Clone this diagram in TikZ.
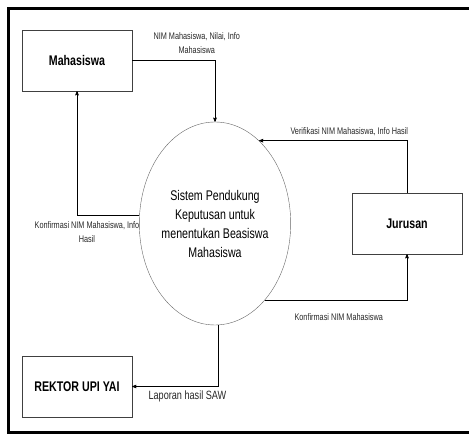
\documentclass[tikz,border=0pt]{standalone}
\usepackage{fontspec}
\setmainfont{Liberation Sans}[FakeStretch=0.76]
\usepackage{tikz}
\usetikzlibrary{arrows, shapes.geometric}

\begin{document}
\begin{tikzpicture}[x=1pt, y=-1pt, ->, >=stealth', semithick,
		entity/.style={draw=black!75, thin, minimum width=110pt, minimum height=61pt, font=\bfseries\fontsize{14}{16}\selectfont},
		process/.style={ellipse, draw=black!60, thin, minimum width=138pt, minimum height=203pt, inner sep=0pt, align=center, font=\fontsize{14}{19}\selectfont},
		flow/.style={font=\fontsize{9.6}{14}\selectfont, align=center, text=black!85},
		hv/.style={to path={-| (\tikztotarget) \tikztonodes}},
		vh/.style={to path={|- (\tikztotarget) \tikztonodes}}]
		\clip (0, 0) rectangle (469, 435);
		\draw[-, line width=3pt] (8.5, 9) rectangle (475, 433);
		
		\node[entity] (mhs) at (77, 60.5) {Mahasiswa};
		\node[entity] (jur) at (407, 223.5) {Jurusan};
		\node[entity] (rek) at (77, 386.5) {REKTOR UPI YAI};
		\node[process] (sys) at (215, 223.5) {Sistem Pendukung\\Keputusan untuk\\menentukan Beasiswa\\Mahasiswa};
		
		\path (mhs) edge[hv] node[flow, pos=0.39, above=3pt] {NIM Mahasiswa, Nilai, Info\\Mahasiswa} (sys)
			(sys.174) edge[hv] node[flow, pos=0.42, below=2pt] {Konfirmasi NIM Mahasiswa, Info\\Hasil} (mhs)
			(jur) edge[vh] node[flow, pos=0.695, above=1pt] {Verifikasi NIM Mahasiswa, Info Hasil} (sys.62)
			(sys.303) edge[hv] node[flow, pos=0.26, below=10pt] {Konfirmasi NIM Mahasiswa} (jur)
			(sys.272) edge[vh] node[flow, font=\fontsize{12}{14}\selectfont, pos=0.68, below=0.5pt] {Laporan hasil SAW} (rek);
	\end{tikzpicture}
\end{document}
